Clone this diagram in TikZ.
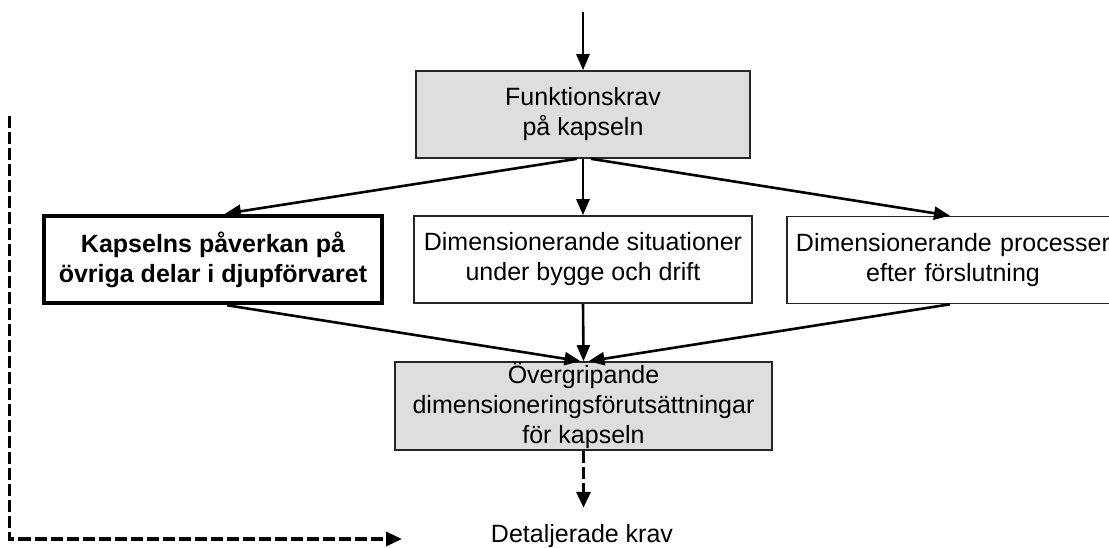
\documentclass[tikz,border=0pt]{standalone}
\usepackage{fontspec}
\setmainfont{Liberation Sans}
\usetikzlibrary{arrows.meta}
\definecolor{boxgray}{HTML}{DEDEDE}
\begin{document}
\begin{tikzpicture}[x=1pt,y=-1pt,
  txt/.style={font=\fontsize{25}{30}\selectfont, align=center, text=black},
  box/.style={txt, draw=black!85, line width=1.6pt, inner sep=0pt, minimum width=338pt, minimum height=87pt},
  graybox/.style={box, fill=boxgray},
  keybox/.style={box, draw=black, line width=4.5pt, font=\fontsize{25}{30}\selectfont\bfseries},
  flow/.style={line width=2.6pt, -{Triangle[length=16pt,width=13pt]}},
  dflow/.style={line width=3.4pt, dash pattern=on 12pt off 4pt, -{Triangle[length=16pt,width=14pt]}}
]
\useasboundingbox (0,0) rectangle (1109,548);
\clip (0,0) rectangle (1109,548);

% boxes
\node[graybox, minimum width=334pt] (fk) at (583,114.5) {Funktionskrav\\på kapseln};
\node[keybox] (kp) at (213,259.5) {Kapselns påverkan på\\övriga delar i djupförvaret};
\node[box] (ds) at (583,259.5) {Dimensionerande situationer\\under bygge och drift};
\node[box, minimum width=338pt, text width=338pt] (dp) at (956,260) {\hspace*{-6pt}Dimensionerande processer\\\hspace*{-6pt}efter förslutning};
\node[graybox, minimum width=377pt, minimum height=88pt] (og) at (583.5,406) {Övergripande\\dimensioneringsförutsättningar\\för kapseln};
\node[txt] (dk) at (582,536) {Detaljerade krav};

% free ends
\coordinate (in) at (583,12);
\coordinate (fbtop) at (9.5,116);
\coordinate (fbcorner) at (9.5,539);
\coordinate (fbend) at (402,539);

% solid connectors
\draw[flow] (in) -- (fk.north);
\draw[flow] ([xshift=-6pt]fk.south) -- ([xshift=12pt]kp.north);
\draw[flow] (fk.south) -- (ds.north);
\draw[flow] ([xshift=8pt]fk.south) -- ([xshift=-6pt]dp.north);
\draw[flow] ([xshift=14pt]kp.south) -- ([xshift=-3pt]og.north);
\draw[flow] (ds.south) -- (og.north);
\draw[flow] ([xshift=-6pt]dp.south) -- ([xshift=5pt]og.north);

% dashed connectors
\draw[dflow] (og.south) -- ++(0,57);
\draw[dflow] (fbtop) -- (fbcorner) -- (fbend);
\end{tikzpicture}
\end{document}
